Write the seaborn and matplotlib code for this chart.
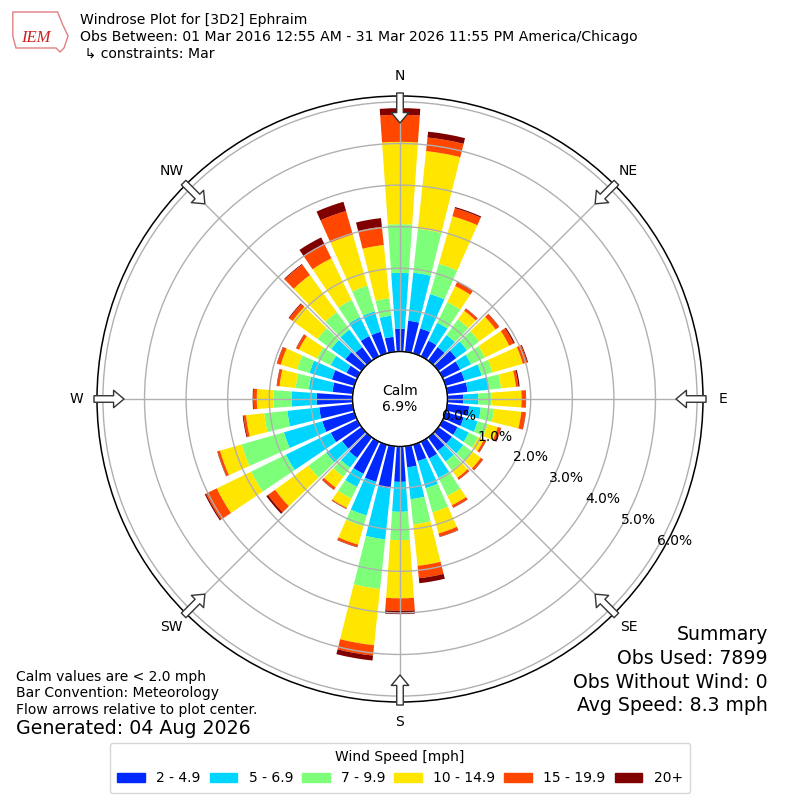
import numpy as np
import matplotlib
matplotlib.use("Agg")
import matplotlib.pyplot as plt
from matplotlib.patches import Patch, Polygon
import seaborn as sns

# wind direction bins (degrees, meteorological convention)
directions = np.arange(0, 360, 10)
speed_labels = ["2 - 4.9", "5 - 6.9", "7 - 9.9", "10 - 14.9", "15 - 19.9", "20+"]

# percent of observations per direction bin, one list per speed bin
pct_2_5 = [0.55, 0.75, 0.62, 0.42, 0.40, 0.53, 0.47, 0.47, 0.49, 0.38, 0.53, 0.45,
           0.40, 0.40, 0.40, 0.45, 0.41, 0.51, 0.85, 1.02, 0.93, 0.86, 0.61, 0.58,
           0.71, 0.80, 0.81, 0.86, 0.49, 0.56, 0.29, 0.48, 0.40, 0.54, 0.54, 0.36]
pct_5_7 = [1.34, 1.16, 0.86, 0.48, 0.36, 0.32, 0.29, 0.43, 0.52, 0.36, 0.28, 0.35,
           0.30, 0.34, 0.32, 0.52, 0.68, 0.77, 0.72, 1.23, 0.84, 0.35, 0.29, 0.47,
           1.20, 0.96, 0.77, 0.60, 0.57, 0.56, 0.42, 0.42, 0.52, 0.51, 0.51, 0.51]
pct_7_10 = [1.17, 1.06, 0.76, 0.55, 0.47, 0.36, 0.37, 0.27, 0.29, 0.32, 0.32, 0.25,
            0.25, 0.28, 0.26, 0.48, 0.60, 0.61, 0.68, 1.20, 0.27, 0.31, 0.27, 0.53,
            0.93, 1.06, 0.56, 0.44, 0.32, 0.31, 0.37, 0.41, 0.52, 0.46, 0.64, 0.42]
pct_10_15 = [1.98, 1.88, 1.19, 0.43, 0.25, 0.49, 0.65, 0.76, 0.36, 0.72, 0.66, 0.25,
             0.15, 0.24, 0.22, 0.25, 0.53, 1.00, 1.40, 1.36, 0.46, 0.25, 0.32, 0.99,
             0.92, 0.54, 0.44, 0.40, 0.39, 0.41, 0.48, 0.74, 1.10, 1.11, 1.28, 1.29]
pct_15_20 = [0.65, 0.33, 0.20, 0.10, 0.06, 0.10, 0.12, 0.11, 0.06, 0.10, 0.10, 0.08,
             0.05, 0.06, 0.05, 0.06, 0.08, 0.30, 0.30, 0.25, 0.06, 0.02, 0.06, 0.21,
             0.29, 0.06, 0.06, 0.08, 0.06, 0.09, 0.07, 0.10, 0.31, 0.37, 0.59, 0.44]
pct_20_up = [0.16, 0.14, 0.03, 0.02, 0.01, 0.01, 0.03, 0.02, 0.03, 0.01, 0.01, 0.01,
             0.01, 0.01, 0.01, 0.01, 0.01, 0.12, 0.08, 0.12, 0.01, 0.01, 0.01, 0.05,
             0.03, 0.01, 0.02, 0.02, 0.01, 0.01, 0.01, 0.02, 0.02, 0.19, 0.23, 0.21]
series = [pct_2_5, pct_5_7, pct_7_10, pct_10_15, pct_15_20, pct_20_up]

calm_pct = 6.9
ring_ticks = [0, 1, 2, 3, 4, 5, 6]
compass_labels = ["N", "NE", "E", "SE", "S", "SW", "W", "NW"]
compass_angles = np.arange(0, 360, 45)

sns.set_style("white")
plt.rcParams["font.family"] = ["DejaVu Sans"]
plt.rcParams["text.color"] = "black"
plt.rcParams["xtick.color"] = "black"
plt.rcParams["ytick.color"] = "black"

jet = matplotlib.colormaps["jet"]
colors = sns.color_palette([jet(v) for v in np.linspace(1 / 6, 1, 6)])

fig = plt.figure(figsize=(8, 8), dpi=100)
ax = fig.add_axes([0.12125, 0.1225, 0.7575, 0.7575], projection="polar")
ax.set_theta_zero_location("N")
ax.set_theta_direction(-1)

theta = np.deg2rad(directions)
bottom = np.zeros(len(directions))
for vals, color in zip(series, colors):
    vals = np.array(vals)
    ax.bar(theta, vals, width=np.deg2rad(8), bottom=bottom, color=color,
           linewidth=0, zorder=1)
    bottom += vals

rmax = bottom.max() * 1.05
rorigin = -rmax * 0.186
ax.set_ylim(0, rmax)
ax.set_rorigin(rorigin)

ax.set_yticks(ring_ticks)
ax.set_yticklabels([f"{t:.1f}%" for t in ring_ticks], fontsize=10)
ax.set_rlabel_position(120)
ax.set_xticks(np.deg2rad(compass_angles))
ax.set_xticklabels(compass_labels, fontsize=10)
ax.tick_params(axis="x", pad=4)
ax.grid(True, color="#b0b0b0", linewidth=1)
ax.set_axisbelow(False)
ax.spines["polar"].set_color("black")
ax.spines["polar"].set_linewidth(1.1)

# calm circle
ring = np.linspace(0, 2 * np.pi, 361)
ax.plot(ring, np.zeros_like(ring), color="black", lw=1, zorder=4, clip_on=False)
ax.text(0.5, 0.5, f"Calm\n{calm_pct:.1f}%", transform=ax.transAxes,
        ha="center", va="center", fontsize=10, zorder=5)

# flow arrows pointing to the centre
span = rmax - rorigin
r_tail = rorigin + span * 306 / 303
r_head = rorigin + span * 276 / 303
for ang in compass_angles:
    ax.annotate("", xy=(np.deg2rad(ang), r_head), xytext=(np.deg2rad(ang), r_tail),
                arrowprops=dict(arrowstyle="simple,head_length=0.75,head_width=1.25,tail_width=0.47",
                                fc="white", ec="#333333", lw=1, shrinkA=0, shrinkB=0,
                                mutation_scale=10),
                annotation_clip=False, zorder=6)

# header
fig.text(0.1, 1 - 20 / 800, "Windrose Plot for [3D2] Ephraim", fontsize=10.1, va="center")
fig.text(0.1, 1 - 37 / 800,
         "Obs Between: 01 Mar 2016 12:55 AM - 31 Mar 2026 11:55 PM America/Chicago",
         fontsize=10.1, va="center")
fig.text(0.1, 1 - 54 / 800, " \u21b3 constraints: Mar", fontsize=10.1, va="center")

# logo
outline = Polygon([(0.016, 0.985), (0.072, 0.985), (0.078, 0.97), (0.085, 0.955),
                   (0.08, 0.94), (0.075, 0.935), (0.07, 0.94), (0.02, 0.94),
                   (0.016, 0.955)], closed=True, transform=fig.transFigure,
                  fill=False, ec="#e08080", lw=1)
fig.add_artist(outline)
fig.text(0.045, 1 - 38 / 800, "IEM", color="#cc1f1f", fontsize=12,
         fontstyle="italic", family="Liberation Serif", ha="center", va="center")

# footer notes
fig.text(0.02, 1 - 677 / 800, "Calm values are < 2.0 mph", fontsize=10, va="center")
fig.text(0.02, 1 - 693 / 800, "Bar Convention: Meteorology", fontsize=10, va="center")
fig.text(0.02, 1 - 710 / 800, "Flow arrows relative to plot center.", fontsize=10, va="center")
fig.text(0.02, 1 - 729 / 800, "Generated: 04 Aug 2026", fontsize=13.7, va="center")

summary = ["Summary", "Obs Used: 7899", "Obs Without Wind: 0", "Avg Speed: 8.3 mph"]
for i, line in enumerate(summary):
    fig.text(0.96, 1 - (635 + 23.5 * i) / 800, line, fontsize=13.6, ha="right", va="center")

handles = [Patch(color=c) for c in colors]
fig.legend(handles, speed_labels, loc="lower center", bbox_to_anchor=(0.5, 0.0),
           ncol=6, title="Wind Speed [mph]", fontsize=10, title_fontsize=10,
           handlelength=2.0, handletextpad=0.8, columnspacing=0.65, borderpad=0.55,
           frameon=True)

fig.savefig("out.png", dpi=100)
